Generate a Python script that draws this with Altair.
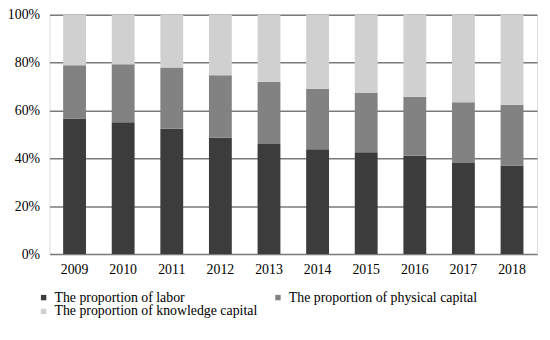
import altair as alt
import pandas as pd

years = ["2009", "2010", "2011", "2012", "2013", "2014", "2015", "2016", "2017", "2018"]
labor = [56.7, 55.1, 52.4, 48.6, 46.0, 43.8, 42.6, 41.1, 38.1, 37.0]
physical = [22.2, 24.2, 25.6, 26.1, 26.0, 25.3, 24.7, 24.6, 25.3, 25.4]
knowledge = [21.1, 20.7, 22.0, 25.3, 28.0, 30.9, 32.7, 34.3, 36.6, 37.6]

series_names = [
    "The proportion of labor",
    "The proportion of physical capital",
    "The proportion of knowledge capital",
]
series_colors = ["#3c3c3c", "#828282", "#d0d0d0"]

# legend lays entries out column by column: order so rows read labor | physical / knowledge
legend_order = [series_names[0], series_names[2], series_names[1]]
legend_colors = [series_colors[0], series_colors[2], series_colors[1]]

rows = []
for i, y in enumerate(years):
    for k, (name, vals) in enumerate(zip(series_names, [labor, physical, knowledge])):
        rows.append({"year": y, "series": name, "value": vals[i], "order": k})
df = pd.DataFrame(rows)

font = "Liberation Serif"

chart = (
    alt.Chart(df)
    .mark_bar()
    .encode(
        x=alt.X(
            "year:N",
            sort=years,
            title=None,
            scale=alt.Scale(paddingInner=0.53, paddingOuter=0.28),
            axis=alt.Axis(
                labelAngle=0, domain=False, ticks=False, labelPadding=9,
                labelFont=font, labelFontSize=14, labelColor="#000000",
            ),
        ),
        y=alt.Y(
            "value:Q",
            stack="normalize",
            title=None,
            scale=alt.Scale(domain=[0, 1], nice=False),
            axis=alt.Axis(
                format="%", values=[0, 0.2, 0.4, 0.6, 0.8, 1.0], domain=False,
                ticks=False, labelPadding=10, labelFont=font, labelFontSize=14,
                labelColor="#000000", gridColor="#7a7a7a", gridWidth=1.5,
            ),
        ),
        color=alt.Color(
            "series:N",
            scale=alt.Scale(domain=legend_order, range=legend_colors),
            legend=alt.Legend(
                title=None, orient="none", legendX=-13, legendY=279,
                columns=2, columnPadding=13, rowPadding=0,
                symbolType="square", symbolSize=30, symbolOffset=0,
                labelOffset=4, labelFont=font, labelFontSize=14,
                labelColor="#000000", labelLimit=400,
            ),
        ),
        order=alt.Order("order:Q", sort="ascending"),
    )
    .properties(
        width=493,
        height=242,
        autosize=alt.AutoSizeParams(type="none"),
        padding={"left": 42, "top": 5, "right": 5, "bottom": 80},
    )
    .configure_view(stroke=None)
    .configure(background="#ffffff")
)

chart.save("out.html", embed_options={"renderer": "svg", "actions": False})
